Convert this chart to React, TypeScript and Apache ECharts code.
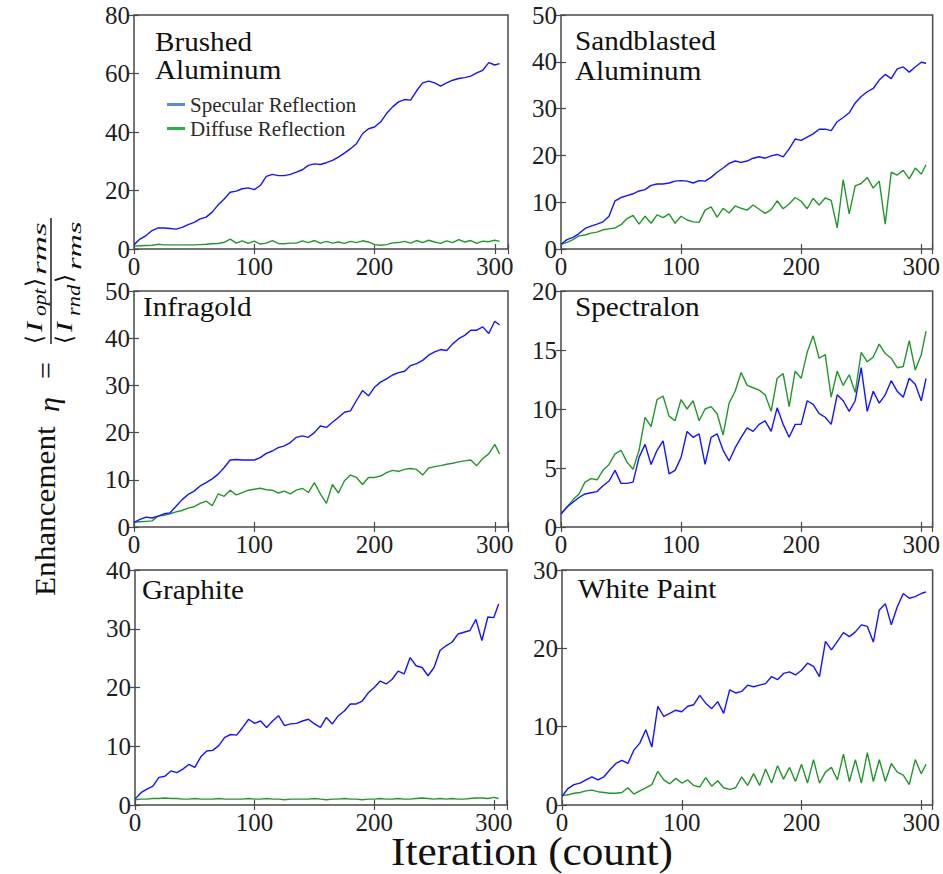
import React, { useEffect, useRef } from "react";
import * as echarts from "echarts";

const iterations = [
  0, 5, 10, 15, 20, 25, 30, 35, 40, 45,
  50, 55, 60, 65, 70, 75, 80, 85, 90, 95,
  100, 105, 110, 115, 120, 125, 130, 135, 140, 145,
  150, 155, 160, 165, 170, 175, 180, 185, 190, 195,
  200, 205, 210, 215, 220, 225, 230, 235, 240, 245,
  250, 255, 260, 265, 270, 275, 280, 285, 290, 295,
  300, 304,
];

const brushedSpecular = [
  1.5, 3.4, 4.6, 6.3, 7.2, 7.2, 7.0, 6.8, 7.4, 8.3,
  9.1, 10.3, 10.9, 12.6, 15.1, 17.1, 19.4, 19.8, 20.6, 20.9,
  20.3, 21.7, 24.8, 25.5, 25.1, 25.1, 25.5, 26.3, 27.1, 28.6,
  29.1, 28.9, 29.5, 30.3, 31.4, 32.8, 34.3, 36.0, 39.4, 41.1,
  41.7, 43.4, 46.3, 48.6, 50.3, 51.1, 50.9, 54.1, 56.8, 57.4,
  56.8, 55.7, 56.8, 57.7, 58.3, 58.6, 59.1, 60.2, 61.1, 63.7,
  62.9, 63.4,
];
const brushedDiffuse = [
  1.0, 1.1, 1.2, 1.3, 1.6, 1.4, 1.4, 1.4, 1.4, 1.4,
  1.4, 1.5, 1.6, 1.8, 1.9, 2.3, 3.4, 2.0, 2.8, 1.9,
  2.7, 1.7, 2.0, 2.9, 1.9, 1.8, 2.0, 2.0, 2.8, 2.2,
  2.9, 2.0, 2.6, 2.0, 2.4, 1.9, 2.6, 2.2, 2.8, 2.4,
  1.5, 1.3, 1.5, 2.1, 2.2, 2.6, 2.0, 2.9, 2.2, 3.0,
  2.4, 1.9, 2.8, 2.2, 3.2, 2.4, 2.9, 1.9, 2.7, 2.5,
  3.0, 2.6,
];

const sandSpecular = [
  1.0, 2.0, 2.5, 3.3, 4.4, 4.9, 5.3, 5.8, 7.0, 10.3,
  11.0, 11.4, 11.8, 12.4, 12.7, 13.6, 13.9, 13.9, 14.1, 14.5,
  14.6, 14.5, 14.1, 14.6, 14.5, 15.3, 16.4, 17.3, 18.3, 18.8,
  18.5, 18.8, 19.4, 19.7, 19.4, 19.9, 20.2, 19.7, 21.4, 23.5,
  23.2, 23.9, 24.6, 25.6, 25.6, 25.3, 27.2, 28.1, 29.1, 31.2,
  32.6, 33.6, 34.3, 36.1, 37.3, 36.4, 38.5, 38.9, 37.8, 38.9,
  39.9, 39.7,
];
const sandDiffuse = [
  1.0, 1.4, 2.0, 2.8, 3.0, 3.4, 3.6, 4.1, 4.3, 4.5,
  5.2, 6.5, 7.2, 5.3, 7.0, 5.5, 7.3, 6.7, 7.5, 5.5,
  7.0, 6.2, 5.8, 5.7, 8.3, 9.0, 6.8, 8.7, 7.7, 9.2,
  8.7, 8.3, 9.4, 8.5, 7.6, 8.4, 10.3, 8.6, 9.6, 11.0,
  10.2, 8.6, 10.8, 9.4, 10.9, 10.4, 4.5, 14.8, 7.5, 13.5,
  14.0, 15.3, 13.0, 14.5, 5.3, 16.4, 15.8, 16.8, 15.0, 17.3,
  16.0, 18.0,
];

const infragoldSpecular = [
  1.0, 1.6, 2.1, 1.9, 2.3, 2.8, 3.0, 4.4, 5.8, 6.9,
  7.6, 8.7, 9.4, 10.2, 11.2, 12.6, 14.2, 14.3, 14.2, 14.2,
  14.2, 14.7, 15.6, 16.1, 16.8, 17.2, 17.9, 19.0, 19.3, 19.0,
  20.0, 21.4, 21.1, 22.2, 23.2, 24.3, 24.6, 26.8, 28.9, 27.8,
  29.6, 30.7, 31.4, 32.2, 32.7, 33.0, 34.2, 34.6, 35.3, 36.4,
  37.1, 37.6, 37.4, 38.8, 39.9, 40.6, 41.7, 41.7, 42.4, 41.0,
  43.6, 42.8,
];
const infragoldDiffuse = [
  1.0, 1.1, 1.2, 1.3, 2.3, 2.5, 2.8, 3.2, 3.5, 4.0,
  4.3, 5.0, 5.5, 4.5, 7.0, 6.5, 7.8, 6.8, 7.3, 7.8,
  8.0, 8.2, 7.9, 7.8, 7.2, 7.6, 7.0, 7.8, 8.2, 7.3,
  9.4, 7.0, 5.0, 9.0, 7.2, 9.8, 11.0, 10.5, 9.0, 10.5,
  10.5, 10.8, 11.5, 12.0, 11.8, 12.2, 12.4, 12.2, 11.0, 12.5,
  12.8, 13.0, 13.3, 13.5, 13.8, 14.0, 14.2, 13.0, 14.5, 15.5,
  17.5, 15.5,
];

const spectralonSpecular = [
  1.1, 1.7, 2.1, 2.5, 2.8, 2.9, 3.0, 3.5, 3.9, 4.8,
  3.7, 3.7, 3.8, 5.9, 7.0, 5.3, 6.5, 7.3, 4.5, 4.8,
  5.9, 8.1, 7.6, 7.9, 5.3, 7.6, 7.9, 6.5, 5.6, 6.7,
  7.6, 8.4, 8.1, 8.7, 9.0, 8.1, 10.1, 8.7, 7.6, 8.7,
  8.7, 10.7, 10.4, 9.6, 9.3, 8.7, 11.2, 10.7, 9.8, 10.7,
  13.5, 9.8, 11.5, 10.5, 11.2, 12.4, 11.5, 11.0, 12.6, 12.1,
  10.7, 12.6,
];
const spectralonDiffuse = [
  1.1, 1.7, 2.3, 2.8, 3.8, 4.1, 4.0, 4.8, 5.3, 6.2,
  6.5, 5.5, 4.9, 6.5, 9.3, 8.5, 10.8, 11.1, 9.4, 9.0,
  10.8, 10.0, 10.7, 9.0, 10.0, 10.2, 9.6, 7.8, 10.5, 11.5,
  13.1, 12.0, 11.8, 11.6, 11.2, 9.8, 12.6, 13.0, 10.2, 13.2,
  12.6, 14.8, 16.2, 14.3, 14.6, 11.0, 13.2, 12.0, 12.9, 11.4,
  14.8, 14.0, 14.4, 15.5, 14.7, 14.3, 13.5, 13.6, 15.8, 13.3,
  14.6, 16.6,
];

const graphiteSpecular = [
  1.0, 2.1, 2.7, 3.2, 4.7, 4.9, 5.8, 5.5, 6.1, 6.9,
  6.4, 8.2, 9.2, 9.3, 10.1, 11.5, 12.0, 11.9, 13.2, 14.6,
  13.9, 14.3, 13.2, 14.3, 15.2, 13.5, 13.8, 13.9, 14.3, 14.6,
  13.8, 13.2, 14.9, 13.8, 15.2, 16.0, 17.2, 17.2, 17.7, 19.1,
  20.0, 21.1, 20.6, 21.4, 22.8, 22.3, 25.1, 23.7, 23.4, 22.0,
  23.4, 26.3, 27.1, 27.7, 29.1, 29.4, 29.7, 31.6, 28.0, 32.0,
  31.9, 34.2,
];
const graphiteDiffuse = [
  0.9, 1.0, 1.0, 1.1, 1.1, 1.2, 1.1, 1.1, 1.0, 1.0,
  1.1, 1.0, 1.0, 1.0, 1.1, 1.0, 1.0, 1.0, 1.0, 1.1,
  1.0, 1.0, 1.1, 1.0, 1.0, 0.9, 1.0, 1.0, 1.0, 1.0,
  1.1, 1.0, 0.9, 1.0, 1.0, 1.1, 1.0, 1.0, 0.9, 1.0,
  1.0, 1.1, 1.0, 1.0, 1.1, 1.0, 1.0, 1.1, 1.2, 1.1,
  1.0, 1.1, 1.0, 1.1, 1.0, 1.0, 1.1, 1.2, 1.2, 1.1,
  1.3, 1.1,
];

const paintSpecular = [
  1.1, 2.1, 2.6, 2.8, 3.2, 3.6, 3.2, 3.6, 4.5, 5.3,
  5.7, 5.3, 7.0, 7.9, 9.6, 7.4, 12.6, 11.3, 11.7, 12.1,
  11.9, 12.6, 12.8, 14.0, 13.0, 12.3, 13.2, 11.7, 14.7, 14.3,
  14.5, 15.3, 15.1, 15.3, 15.5, 16.4, 16.0, 16.8, 17.0, 16.6,
  17.2, 18.1, 17.7, 16.4, 20.9, 19.8, 20.9, 22.0, 21.5, 22.1,
  23.0, 22.8, 20.8, 24.9, 25.7, 23.0, 25.3, 27.0, 26.4, 26.6,
  27.0, 27.2,
];
const paintDiffuse = [
  1.2, 1.3, 1.5, 1.6, 1.8, 1.9, 1.7, 1.6, 1.5, 1.5,
  1.6, 2.2, 1.4, 1.8, 2.2, 2.6, 4.3, 3.2, 2.7, 3.4,
  2.8, 3.2, 2.5, 2.3, 3.5, 2.4, 3.1, 2.2, 2.0, 2.2,
  3.6, 2.5, 4.0, 2.5, 4.6, 2.8, 5.0, 3.3, 4.8, 3.0,
  5.2, 2.8, 5.8, 2.8, 4.2, 4.8, 3.2, 6.5, 3.0, 5.8,
  2.8, 6.7, 3.0, 5.8, 3.0, 5.3, 4.2, 3.8, 2.6, 5.8,
  4.0, 5.2,
];

const panelTitles = [
  ["Brushed", "Aluminum"],
  ["Sandblasted", "Aluminum"],
  ["Infragold"],
  ["Spectralon"],
  ["Graphite"],
  ["White Paint"],
];
const specularSets = [brushedSpecular, sandSpecular, infragoldSpecular, spectralonSpecular, graphiteSpecular, paintSpecular];
const diffuseSets = [brushedDiffuse, sandDiffuse, infragoldDiffuse, spectralonDiffuse, graphiteDiffuse, paintDiffuse];
const yMaxes = [80, 50, 50, 20, 40, 30];
const yIntervals = [20, 10, 10, 5, 10, 10];
const xLabels = [0, 100, 200, 300];

const SPEC_NAME = "Specular Reflection";
const DIFF_NAME = "Diffuse Reflection";

// layout (pixels)
const grids = [
  { left: 134, top: 15, width: 374, height: 234 },
  { left: 561, top: 15, width: 373, height: 234 },
  { left: 134, top: 291, width: 374, height: 236 },
  { left: 561, top: 291, width: 373, height: 236 },
  { left: 135, top: 570, width: 372, height: 235 },
  { left: 562, top: 570, width: 372, height: 235 },
];
const xMaxes = [311, 309.5, 311, 309.5, 311, 309.5];
const titlePos = [
  { x: 155, y: 42, y2: 70 },
  { x: 575, y: 41, y2: 71 },
  { x: 143, y: 307 },
  { x: 575, y: 307 },
  { x: 142, y: 590 },
  { x: 578, y: 589 },
];

const SERIF = "'Liberation Serif', 'Times New Roman', serif";
const FRAME = "#4a4a4a";
const LABEL = "#1e1e1e";
const BLUE = "#1414ff";
const GREEN = "#24962c";

function buildOption() {
  const xAxis: any[] = [];
  const yAxis: any[] = [];
  const series: any[] = [];
  const graphic: any[] = [];

  grids.forEach((g, i) => {
    const tick = { show: true, inside: true, length: 5, lineStyle: { color: FRAME, width: 1.2 } };
    const label = {
      fontSize: 25,
      fontFamily: SERIF,
      color: LABEL,
    };
    xAxis.push({
      type: "value",
      gridIndex: i,
      min: 0,
      max: xMaxes[i],
      interval: 100,
      axisLine: { show: false },
      axisTick: tick,
      splitLine: { show: false },
      axisLabel: {
        ...label,
        margin: 5,
        formatter: (v: number) => (xLabels.indexOf(v) >= 0 ? String(v) : ""),
      },
    });
    xAxis.push({
      type: "value",
      gridIndex: i,
      position: "top",
      min: 0,
      max: xMaxes[i],
      interval: 100,
      axisLine: { show: false },
      axisTick: tick,
      splitLine: { show: false },
      axisLabel: { show: false },
    });
    yAxis.push({
      type: "value",
      gridIndex: i,
      min: 0,
      max: yMaxes[i],
      interval: yIntervals[i],
      axisLine: { show: false },
      axisTick: tick,
      splitLine: { show: false },
      axisLabel: { ...label, margin: 4 },
    });
    yAxis.push({
      type: "value",
      gridIndex: i,
      position: "right",
      min: 0,
      max: yMaxes[i],
      interval: yIntervals[i],
      axisLine: { show: false },
      axisTick: tick,
      splitLine: { show: false },
      axisLabel: { show: false },
    });

    series.push({
      name: SPEC_NAME,
      type: "line",
      xAxisIndex: 2 * i,
      yAxisIndex: 2 * i,
      showSymbol: false,
      symbol: "none",
      lineStyle: { color: BLUE, width: 1.4 },
      itemStyle: { color: BLUE },
      data: iterations.map((x, k) => [x, specularSets[i][k]]),
      z: 3,
    });
    series.push({
      name: DIFF_NAME,
      type: "line",
      xAxisIndex: 2 * i,
      yAxisIndex: 2 * i,
      showSymbol: false,
      symbol: "none",
      lineStyle: { color: GREEN, width: 1.4 },
      itemStyle: { color: GREEN },
      data: iterations.map((x, k) => [x, diffuseSets[i][k]]),
      z: 2,
    });

    const tp = titlePos[i];
    panelTitles[i].forEach((t, li) => {
      graphic.push({
        type: "text",
        x: tp.x,
        y: li === 0 ? tp.y : (tp as any).y2,
        scaleX: 1.08,
        z: 10,
        style: {
          text: t,
          fontSize: 27,
          fontFamily: SERIF,
          fill: "#111",
          align: "left",
          verticalAlign: "middle",
        },
      });
    });
  });

  // x-axis title
  graphic.push({
    type: "text",
    x: 532,
    y: 852,
    scaleX: 1.08,
    style: {
      text: "Iteration (count)",
      fontSize: 40,
      fontFamily: SERIF,
      fill: "#111",
      align: "center",
      verticalAlign: "middle",
    },
  });

  // y-axis title, rotated 90deg counter-clockwise
  const t = (text: string, x: number, y: number, size: number, italic: boolean, sx = 1) => ({
    type: "text",
    x,
    y,
    scaleX: sx,
    style: {
      text,
      fontSize: size,
      fontFamily: SERIF,
      fontStyle: italic ? "italic" : "normal",
      fill: "#111",
      align: "left",
      verticalAlign: "middle",
    },
  });
  graphic.push({
    type: "group",
    x: 56,
    y: 596,
    rotation: Math.PI / 2,
    children: [
      t("Enhancement", 0, -11, 30, false, 1.04),
      t("η", 184, -8, 30, true),
      t("=", 217, -11, 30, false),
      {
        type: "line",
        shape: { x1: 252, y1: -5, x2: 378, y2: -5 },
        style: { stroke: "#111", lineWidth: 1.4 },
      },
      // numerator <I_opt>_rms
      t("⟨", 252, -22, 23, false),
      t("I", 264, -22, 23, true, 1.3),
      t("opt", 280, -16, 18, true, 1.2),
      t("⟩", 309, -22, 23, false),
      t("rms", 321, -16, 19, true, 1.85),
      // denominator <I_rnd>_rms
      t("⟨", 252, 8, 23, false),
      t("I", 264, 8, 23, true, 1.3),
      t("rnd", 280, 18, 18, true, 1.25),
      t("⟩", 313, 8, 23, false),
      t("rms", 326, 19, 19, true, 1.7),
    ],
  });

  return {
    animation: false,
    backgroundColor: "#ffffff",
    grid: grids.map((g) => ({ ...g, show: true, borderColor: FRAME, borderWidth: 1.5, backgroundColor: "transparent" })),
    legend: {
      show: true,
      orient: "vertical",
      left: 162,
      top: 89,
      icon: "rect",
      itemWidth: 18,
      itemHeight: 3,
      itemGap: 3,
      selectedMode: false,
      textStyle: { fontSize: 21, fontFamily: SERIF, color: "#2a2a2a" },
      data: [
        { name: SPEC_NAME, itemStyle: { color: "#5b8bd8" } },
        { name: DIFF_NAME, itemStyle: { color: "#2fae4c" } },
      ],
    },
    xAxis,
    yAxis,
    series,
    graphic,
  };
}

export default function App() {
  const ref = useRef<HTMLDivElement>(null);
  useEffect(() => {
    if (!ref.current) return;
    const chart = echarts.init(ref.current, null, { renderer: "svg" });
    chart.setOption(buildOption() as any);
    return () => chart.dispose();
  }, []);
  return (
    <div
      ref={ref}
      style={{ position: "absolute", left: 0, top: 0, width: 943, height: 874, background: "#fff" }}
    />
  );
}
